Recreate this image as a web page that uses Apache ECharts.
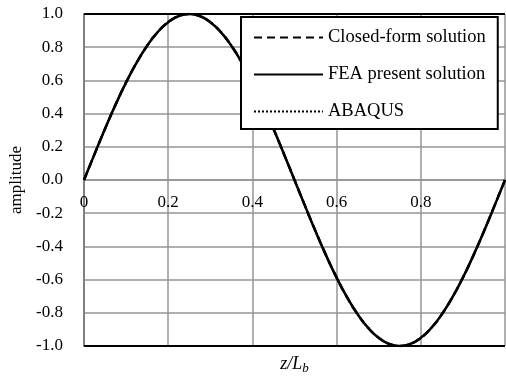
<!DOCTYPE html>
<html>
<head>
<meta charset="utf-8">
<script src="https://cdn.jsdelivr.net/npm/echarts@6/dist/echarts.min.js"></script>
<style>
  html, body { margin: 0; padding: 0; background: #fff; }
  #chart { width: 506px; height: 379px; }
</style>
</head>
<body>
<div id="chart"></div>
<script>
// Normalised position along the beam, z / L_b
const zPositions = [
  0, 0.025, 0.05, 0.075, 0.1, 0.125, 0.15, 0.175, 0.2, 0.225,
  0.25, 0.275, 0.3, 0.325, 0.35, 0.375, 0.4, 0.425, 0.45, 0.475,
  0.5, 0.525, 0.55, 0.575, 0.6, 0.625, 0.65, 0.675, 0.7, 0.725,
  0.75, 0.775, 0.8, 0.825, 0.85, 0.875, 0.9, 0.925, 0.95, 0.975, 1.0
];

// Mode shape amplitude for each solution
const closedForm = [
  0, 0.156, 0.309, 0.454, 0.588, 0.707, 0.809, 0.891, 0.951, 0.988,
  1.0, 0.988, 0.951, 0.891, 0.809, 0.707, 0.588, 0.454, 0.309, 0.156,
  0, -0.156, -0.309, -0.454, -0.588, -0.707, -0.809, -0.891, -0.951, -0.988,
  -1.0, -0.988, -0.951, -0.891, -0.809, -0.707, -0.588, -0.454, -0.309, -0.156, 0
];
const feaPresent = [
  0, 0.156, 0.309, 0.454, 0.588, 0.707, 0.809, 0.891, 0.951, 0.988,
  1.0, 0.988, 0.951, 0.891, 0.809, 0.707, 0.588, 0.454, 0.309, 0.156,
  0, -0.156, -0.309, -0.454, -0.588, -0.707, -0.809, -0.891, -0.951, -0.988,
  -1.0, -0.988, -0.951, -0.891, -0.809, -0.707, -0.588, -0.454, -0.309, -0.156, 0
];
const abaqus = [
  0, 0.156, 0.309, 0.454, 0.588, 0.707, 0.809, 0.891, 0.951, 0.988,
  1.0, 0.988, 0.951, 0.891, 0.809, 0.707, 0.588, 0.454, 0.309, 0.156,
  0, -0.156, -0.309, -0.454, -0.588, -0.707, -0.809, -0.891, -0.951, -0.988,
  -1.0, -0.988, -0.951, -0.891, -0.809, -0.707, -0.588, -0.454, -0.309, -0.156, 0
];

const seriesNames = ['Closed-form solution', 'FEA present solution', 'ABAQUS'];

const pairs = (ys) => zPositions.map((z, i) => [z, ys[i]]);

const FONT = '"Liberation Serif", "Times New Roman", serif';
const GRID_GREY = '#949494';
const CLEAR = 'rgba(0,0,0,0)';

// Plot area: 14px from the top, 33px from the bottom of the 379px canvas
const GRID_TOP = 14;
const GRID_BOTTOM = 33;
const PLOT_HALF = (379 - GRID_TOP - GRID_BOTTOM) / 2;

const chart = echarts.init(document.getElementById('chart'), null, { renderer: 'canvas' });

chart.setOption({
  animation: false,
  backgroundColor: '#ffffff',
  textStyle: { fontFamily: FONT, color: '#000' },
  grid: { left: 84, right: 1, top: GRID_TOP, bottom: GRID_BOTTOM, containLabel: false, outerBoundsMode: 'none' },
  legend: {
    orient: 'vertical',
    left: 241,
    top: 17,
    data: seriesNames,
    itemWidth: 69,
    itemHeight: 14,
    itemGap: 18,
    padding: [11, 12, 8, 12],
    backgroundColor: '#ffffff',
    borderColor: '#000000',
    borderWidth: 2,
    borderRadius: 0,
    itemStyle: { color: CLEAR, borderColor: CLEAR, borderWidth: 0 },
    textStyle: { fontFamily: FONT, fontSize: 18.5, color: '#000' }
  },
  xAxis: {
    type: 'value',
    min: 0,
    max: 1,
    interval: 0.2,
    position: 'bottom',
    // the tick labels sit on the zero line, half the plot height above the bottom edge
    offset: -PLOT_HALF,
    name: '{i|z/L}{s|b}',
    nameLocation: 'middle',
    nameGap: PLOT_HALF + 8,
    nameTextStyle: {
      rich: {
        i: { fontFamily: FONT, fontStyle: 'italic', fontSize: 18, color: '#000' },
        s: { fontFamily: FONT, fontStyle: 'italic', fontSize: 13, color: '#000', verticalAlign: 'bottom', padding: [8, 0, 0, 0] }
      }
    },
    axisLine: { show: true, onZero: false, lineStyle: { color: GRID_GREY, width: 1.5 } },
    axisTick: { show: false },
    axisLabel: {
      margin: 14,
      fontFamily: FONT,
      fontSize: 17,
      color: '#000',
      formatter: (v) => (v >= 1 ? '' : (v === 0 ? '0' : String(+v.toFixed(1))))
    },
    splitLine: { show: true, lineStyle: { color: GRID_GREY, width: 1.5 } }
  },
  yAxis: {
    type: 'value',
    min: -1,
    max: 1,
    interval: 0.2,
    name: 'amplitude',
    nameLocation: 'middle',
    nameGap: 53,
    nameTextStyle: { fontFamily: FONT, fontSize: 17, color: '#000' },
    axisLine: { show: true, onZero: false, lineStyle: { color: '#808080', width: 2 } },
    axisTick: { show: false },
    axisLabel: {
      margin: 21,
      fontFamily: FONT,
      fontSize: 17,
      color: '#000',
      formatter: (v) => v.toFixed(1)
    },
    splitLine: { show: true, lineStyle: { color: GRID_GREY, width: 1.5 } }
  },
  series: [
    {
      name: seriesNames[0],
      type: 'line',
      data: pairs(closedForm),
      symbol: 'none',
      smooth: true,
      lineStyle: { color: '#000', width: 2.5, type: [8, 5] },
      itemStyle: { color: '#000' },
      z: 2
    },
    {
      name: seriesNames[2],
      type: 'line',
      data: pairs(abaqus),
      symbol: 'none',
      smooth: true,
      lineStyle: { color: '#000', width: 2, type: [2, 2] },
      itemStyle: { color: '#000' },
      z: 2
    },
    {
      name: seriesNames[1],
      type: 'line',
      data: pairs(feaPresent),
      symbol: 'none',
      smooth: true,
      lineStyle: { color: '#000', width: 2.5, type: 'solid' },
      itemStyle: { color: '#000' },
      z: 3,
      markLine: {
        silent: true,
        symbol: ['none', 'none'],
        label: { show: false },
        lineStyle: { color: '#000', width: 2, type: 'solid' },
        data: [{ yAxis: 1 }, { yAxis: -1 }]
      }
    }
  ]
});
</script>
</body>
</html>
